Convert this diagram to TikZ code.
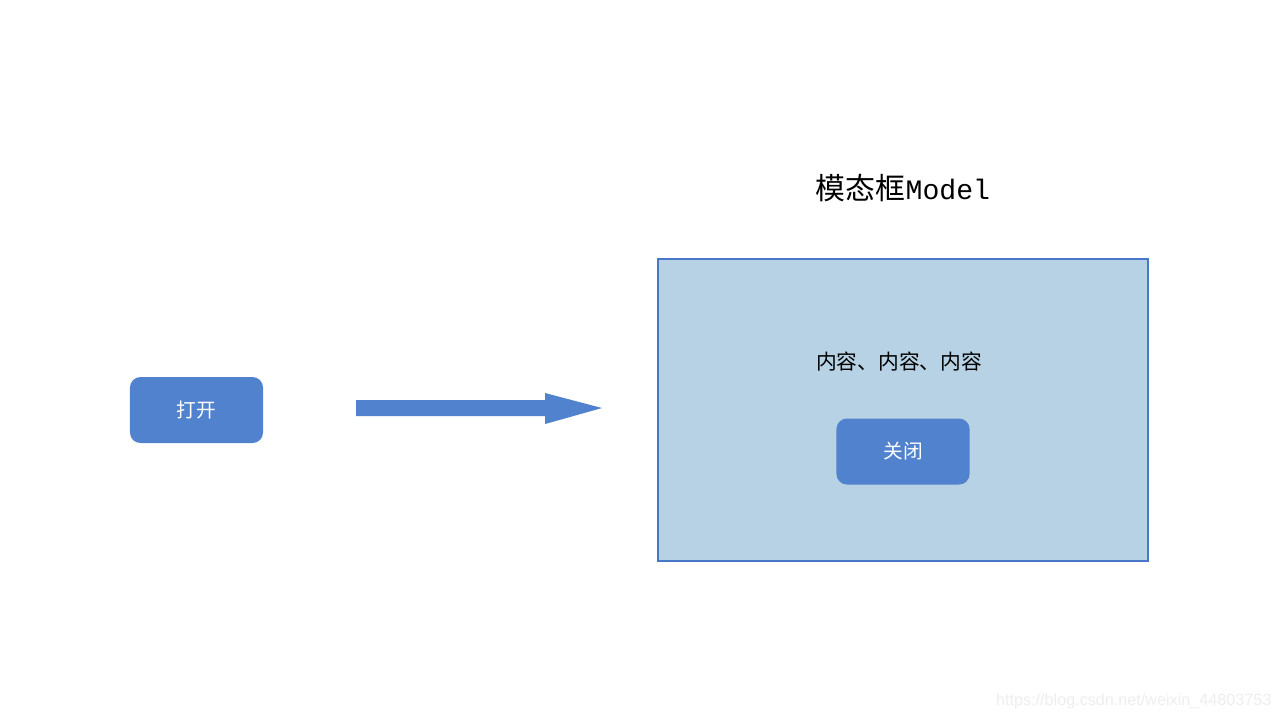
\documentclass[tikz,border=0pt]{standalone}
\usepackage{fontspec}
\setmainfont{Liberation Serif}
\newfontfamily\cjk{Noto Sans CJK SC}
\newfontfamily\monof{Liberation Mono}
\newfontfamily\wmf{Liberation Sans}
\definecolor{btnblue}{RGB}{81,130,206}
\definecolor{panelfill}{RGB}{183,210,228}
\definecolor{panelline}{RGB}{72,118,200}
\definecolor{wmgray}{RGB}{238,238,238}
\tikzset{
  px/.style={x=0.01cm,y=-0.01cm},
  btn/.style={fill=btnblue,draw=none,rounded corners=3pt,minimum width=1.33cm,minimum height=0.66cm,inner sep=0pt,text=white,font=\cjk\fontsize{5.6pt}{6pt}\selectfont},
  panel/.style={fill=panelfill,draw=panelline,line width=0.55pt,minimum width=4.9cm,minimum height=3.02cm,inner sep=0pt},
  bigarrow/.style={fill=btnblue,draw=none}
}
\begin{document}
\begin{tikzpicture}[px]
\useasboundingbox[fill=white] (0,0) rectangle (1280,720);
\node[btn] (open) at (196.5,410) {打开};
\node[panel] (modal) at (903,410) {};
\node[font=\cjk\fontsize{8.5pt}{9pt}\selectfont] (title) at (903,188) {模态框{\monof\fontsize{8pt}{9pt}\selectfont Model}};
\node[font=\cjk\fontsize{5.9pt}{6pt}\selectfont] (content) at (899,362) {内容、内容、内容};
\node[btn] (close) at (903,451.5) {关闭};
\coordinate (tip) at (602,408);
\fill[bigarrow] (356,400) -- (545,400) -- (545,393) -- (tip) -- (545,424) -- (545,416) -- (356,416) -- cycle;
\node[anchor=east,text=wmgray,font=\wmf\fontsize{4.6pt}{5pt}\selectfont,inner sep=0pt] (wm) at (1272,701) {https://blog.csdn.net/weixin\_44803753};
\end{tikzpicture}
\end{document}
